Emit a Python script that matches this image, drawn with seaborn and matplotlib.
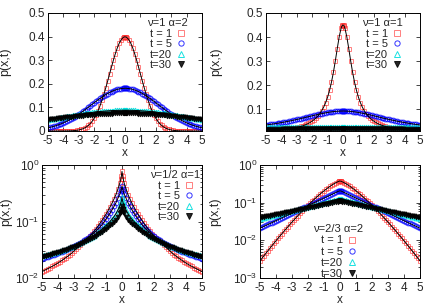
import numpy as np
import seaborn as sns
import matplotlib.pyplot as plt
from matplotlib.lines import Line2D
from matplotlib.ticker import FuncFormatter

# profiles read for x >= 0; every curve is symmetric about x = 0
x_half = [0, 0.04, 0.08, 0.125, 0.25, 0.375, 0.5, 0.625, 0.75, 0.875, 1,
          1.125, 1.25, 1.375, 1.5, 1.625, 1.75, 1.875, 2, 2.125, 2.25, 2.375,
          2.5, 2.625, 2.75, 2.875, 3, 3.125, 3.25, 3.375, 3.5, 3.625, 3.75,
          3.875, 4, 4.125, 4.25, 4.375, 4.5, 4.625, 4.75, 4.875, 5]
times = ['t = 1', 't = 5', 't=20', 't=30']
x_ticks = [-5, -4, -3, -2, -1, 0, 1, 2, 3, 4, 5]

# nu=1 alpha=2
a_t1 = [0.3989, 0.3986, 0.3976, 0.3958, 0.3867, 0.3718, 0.3521, 0.3282, 0.3011, 0.2718, 0.2420,
        0.2119, 0.1826, 0.1551, 0.1295, 0.1065, 0.0863, 0.0688, 0.0540, 0.0417, 0.0317, 0.0237,
        0.0175, 0.0127, 0.0091, 0.0064, 0.0044, 0.0030, 0.0020, 0.0013, 0.0009, 0.0006, 0.0004,
        0.0002, 0.0001, 0.0001, 0.0, 0.0, 0.0, 0.0, 0.0, 0.0, 0.0]
a_t5 = [0.1810, 0.1810, 0.1809, 0.1807, 0.1798, 0.1784, 0.1764, 0.1738, 0.1708, 0.1672, 0.1632,
        0.1588, 0.1540, 0.1489, 0.1435, 0.1378, 0.1320, 0.1259, 0.1197, 0.1135, 0.1073, 0.1010,
        0.0949, 0.0888, 0.0828, 0.0770, 0.0714, 0.0660, 0.0608, 0.0558, 0.0511, 0.0466, 0.0424,
        0.0384, 0.0347, 0.0312, 0.0280, 0.0250, 0.0223, 0.0198, 0.0176, 0.0156, 0.0137]
a_t20 = [0.0880, 0.0880, 0.0880, 0.0880, 0.0879, 0.0877, 0.0875, 0.0872, 0.0868, 0.0864, 0.0859,
         0.0853, 0.0847, 0.0840, 0.0833, 0.0825, 0.0817, 0.0808, 0.0798, 0.0788, 0.0778, 0.0767,
         0.0756, 0.0744, 0.0732, 0.0719, 0.0707, 0.0694, 0.0680, 0.0667, 0.0653, 0.0639, 0.0624,
         0.0610, 0.0596, 0.0581, 0.0566, 0.0552, 0.0537, 0.0522, 0.0508, 0.0493, 0.0478]
a_t30 = [0.0750, 0.0750, 0.0750, 0.0750, 0.0749, 0.0748, 0.0747, 0.0745, 0.0742, 0.0740, 0.0737,
         0.0733, 0.0729, 0.0725, 0.0721, 0.0716, 0.0710, 0.0704, 0.0698, 0.0692, 0.0685, 0.0678,
         0.0671, 0.0663, 0.0656, 0.0647, 0.0639, 0.0631, 0.0622, 0.0613, 0.0603, 0.0594, 0.0584,
         0.0574, 0.0564, 0.0554, 0.0544, 0.0534, 0.0524, 0.0513, 0.0503, 0.0492, 0.0481]

# nu=1 alpha=1
b_t1 = [0.4500, 0.4486, 0.4443, 0.4364, 0.4000, 0.3512, 0.3000, 0.2526, 0.2118, 0.1778, 0.1500,
        0.1274, 0.1091, 0.0941, 0.0818, 0.0716, 0.0632, 0.0560, 0.0500, 0.0449, 0.0404, 0.0366,
        0.0333, 0.0304, 0.0279, 0.0257, 0.0237, 0.0219, 0.0203, 0.0189, 0.0176, 0.0165, 0.0155,
        0.0145, 0.0136, 0.0128, 0.0121, 0.0115, 0.0108, 0.0103, 0.0098, 0.0093, 0.0088]
b_t5 = [0.0920, 0.0920, 0.0920, 0.0919, 0.0916, 0.0911, 0.0905, 0.0896, 0.0886, 0.0874, 0.0861,
        0.0847, 0.0831, 0.0815, 0.0798, 0.0779, 0.0761, 0.0742, 0.0723, 0.0703, 0.0684, 0.0664,
        0.0645, 0.0626, 0.0607, 0.0588, 0.0570, 0.0552, 0.0535, 0.0518, 0.0501, 0.0485, 0.0469,
        0.0454, 0.0440, 0.0426, 0.0412, 0.0399, 0.0386, 0.0374, 0.0362, 0.0351, 0.0340]
b_t20 = [0.0265, 0.0265, 0.0265, 0.0265, 0.0265, 0.0265, 0.0265, 0.0265, 0.0264, 0.0264, 0.0264,
         0.0264, 0.0263, 0.0263, 0.0263, 0.0262, 0.0262, 0.0261, 0.0261, 0.0260, 0.0259, 0.0259,
         0.0258, 0.0257, 0.0257, 0.0256, 0.0255, 0.0254, 0.0253, 0.0252, 0.0252, 0.0251, 0.0250,
         0.0249, 0.0248, 0.0247, 0.0246, 0.0245, 0.0244, 0.0243, 0.0242, 0.0241, 0.0240]
b_t30 = [0.0158, 0.0158, 0.0158, 0.0158, 0.0158, 0.0158, 0.0158, 0.0158, 0.0158, 0.0158, 0.0158,
         0.0157, 0.0157, 0.0157, 0.0157, 0.0157, 0.0157, 0.0157, 0.0157, 0.0156, 0.0156, 0.0156,
         0.0156, 0.0155, 0.0155, 0.0155, 0.0155, 0.0154, 0.0154, 0.0154, 0.0154, 0.0153, 0.0153,
         0.0153, 0.0152, 0.0152, 0.0152, 0.0151, 0.0151, 0.0151, 0.0150, 0.0150, 0.0150]

# nu=1/2 alpha=1
c_t1 = [0.77, 0.64, 0.56, 0.49, 0.38, 0.30, 0.25, 0.21, 0.18, 0.155, 0.135,
        0.119, 0.105, 0.093, 0.083, 0.074, 0.067, 0.061, 0.056, 0.0518, 0.048, 0.0444,
        0.041, 0.0379, 0.035, 0.0324, 0.030, 0.0279, 0.026, 0.0244, 0.023, 0.0217, 0.0205,
        0.0194, 0.0184, 0.0175, 0.0167, 0.0160, 0.0153, 0.0147, 0.0141, 0.0135, 0.0130]
c_t5 = [0.42, 0.375, 0.34, 0.31, 0.26, 0.215, 0.185, 0.16, 0.14, 0.124, 0.110,
        0.0978, 0.088, 0.080, 0.0733, 0.0677, 0.0629, 0.0587, 0.0550, 0.0518, 0.0489, 0.0463,
        0.0440, 0.0419, 0.0400, 0.0383, 0.0367, 0.0352, 0.0338, 0.0326, 0.0314, 0.0303, 0.0293,
        0.0284, 0.0275, 0.0267, 0.0259, 0.0251, 0.0244, 0.0238, 0.0232, 0.0226, 0.0220]
c_t20 = [0.27, 0.23, 0.21, 0.195, 0.16, 0.138, 0.122, 0.11, 0.100, 0.092, 0.085,
         0.0787, 0.073, 0.068, 0.064, 0.060, 0.0565, 0.0536, 0.051, 0.0486, 0.0465, 0.0446,
         0.0428, 0.0412, 0.0397, 0.0383, 0.0370, 0.0358, 0.0347, 0.0337, 0.0327, 0.0318, 0.0309,
         0.0301, 0.0293, 0.0286, 0.0279, 0.0273, 0.0267, 0.0261, 0.0256, 0.0251, 0.0246]
c_t30 = [0.19, 0.165, 0.15, 0.14, 0.12, 0.107, 0.098, 0.091, 0.085, 0.0797, 0.075,
         0.070, 0.066, 0.0624, 0.059, 0.0561, 0.0535, 0.0511, 0.049, 0.0469, 0.045, 0.0432,
         0.0415, 0.0399, 0.0385, 0.0372, 0.036, 0.0349, 0.0338, 0.0328, 0.0318, 0.0309, 0.0301,
         0.0293, 0.0286, 0.0279, 0.0272, 0.0266, 0.026, 0.0254, 0.0249, 0.0244, 0.0239]

# nu=2/3 alpha=2
d_t1 = [0.376, 0.3724, 0.3674, 0.3609, 0.3401, 0.3176, 0.2943, 0.2710, 0.2483, 0.2265, 0.2058,
        0.1862, 0.1680, 0.1511, 0.1354, 0.1211, 0.1080, 0.0961, 0.0853, 0.0755, 0.0667, 0.0588,
        0.0518, 0.0455, 0.0399, 0.0349, 0.0305, 0.0266, 0.0231, 0.0201, 0.01744, 0.0151, 0.01308,
        0.0113, 0.00975, 0.0084, 0.00723, 0.00621, 0.00533, 0.00457, 0.00391, 0.00334, 0.00285]
d_t5 = [0.205, 0.204, 0.202, 0.199, 0.1871, 0.1766, 0.1667, 0.1574, 0.1486, 0.1403, 0.1324,
        0.1250, 0.1180, 0.1114, 0.1052, 0.0993, 0.0938, 0.0885, 0.0836, 0.0789, 0.0745, 0.0703,
        0.0664, 0.0627, 0.0592, 0.0558, 0.0527, 0.0498, 0.0470, 0.0444, 0.0419, 0.0395, 0.0373,
        0.0352, 0.0333, 0.0314, 0.0296, 0.0280, 0.0264, 0.0249, 0.0236, 0.0222, 0.0210]
d_t20 = [0.1288, 0.1275, 0.1263, 0.1249, 0.1211, 0.1174, 0.1139, 0.1104, 0.1071, 0.1038, 0.1007,
         0.0976, 0.0947, 0.0918, 0.0890, 0.0863, 0.0837, 0.0812, 0.0787, 0.0763, 0.0740, 0.0718,
         0.0696, 0.0675, 0.0654, 0.0634, 0.0615, 0.0596, 0.0578, 0.0561, 0.0544, 0.0527, 0.0511,
         0.0496, 0.0481, 0.0466, 0.0452, 0.0438, 0.0425, 0.0412, 0.0400, 0.0388, 0.0376]
d_t30 = [0.1096, 0.1087, 0.1078, 0.1069, 0.1042, 0.1016, 0.0991, 0.0966, 0.0942, 0.0918, 0.0895,
         0.0873, 0.0851, 0.0830, 0.0809, 0.0789, 0.0769, 0.0750, 0.0731, 0.0713, 0.0695, 0.0678,
         0.0661, 0.0644, 0.0628, 0.0612, 0.0597, 0.0582, 0.0568, 0.0554, 0.0540, 0.0526, 0.0513,
         0.0500, 0.0488, 0.0476, 0.0463, 0.0452, 0.0441, 0.0430, 0.0419, 0.0408, 0.0398]

styles = {
    't = 1': dict(marker='s', color='#ff2a2a', mfc='none', alpha=0.6),
    't = 5': dict(marker='o', color='#0000ff', mfc='none', alpha=0.8),
    't=20': dict(marker='^', color='#00dede', mfc='none', alpha=0.9),
    't=30': dict(marker='v', color='#000000', mfc='#000000', alpha=0.85),
}
MS = 3.4


def mirror(v):
    v = np.asarray(v, dtype=float)
    return np.concatenate([v[:0:-1], v])


x_full = np.concatenate([-np.asarray(x_half)[:0:-1], np.asarray(x_half)])


def draw_panel(ax, series, title, log, anchor, ylim, yticks=None, spacing=0.05):
    for lab, vals in zip(times, series):
        st = styles[lab]
        sns.lineplot(x=x_full, y=mirror(vals), ax=ax, linestyle='', marker=st['marker'],
                     ms=MS, mew=0.7, mec=st['color'], mfc=st['mfc'], alpha=st['alpha'],
                     sort=False, errorbar=None)
    for vals in series:
        sns.lineplot(x=x_full, y=mirror(vals), ax=ax, color='black', lw=0.7,
                     sort=False, errorbar=None)
    ax.set_xlim(-5, 5)
    ax.set_xticks(x_ticks)
    if log:
        ax.set_yscale('log')
    ax.set_ylim(*ylim)
    if yticks is not None:
        ax.set_yticks(yticks)
        ax.yaxis.set_major_formatter(FuncFormatter(lambda v, _: f'{v:g}'))
    ax.tick_params(which='both', direction='in', top=True, right=True, width=0.6)
    ax.tick_params(which='major', length=3, pad=2)
    ax.tick_params(which='minor', length=1.8)
    ax.tick_params(axis='x', pad=2.8)
    for sp in ax.spines.values():
        sp.set_linewidth(0.7)
        sp.set_color('black')
    ax.set_xlabel('x', labelpad=0, fontsize=8.5)
    ax.set_ylabel('p(x,t)')
    handles = [Line2D([], [], ls='', marker=styles[t]['marker'], ms=MS + 0.4, mew=0.7,
                      mec=styles[t]['color'], mfc=styles[t]['mfc'], alpha=styles[t]['alpha'])
               for t in times]
    ax.legend(handles, times, title=title, loc='upper right', bbox_to_anchor=anchor,
              frameon=False, markerfirst=False, handlelength=0.6, handletextpad=0.5,
              labelspacing=spacing, borderpad=0, borderaxespad=0, title_fontsize=8, fontsize=8)


sns.set_theme(style='ticks')
plt.rcParams['font.family'] = ['Liberation Sans', 'DejaVu Sans']
plt.rcParams['axes.unicode_minus'] = False
plt.rcParams['font.size'] = 8
plt.rcParams['axes.labelsize'] = 9
plt.rcParams['xtick.labelsize'] = 8.5
plt.rcParams['ytick.labelsize'] = 8.5

fig = plt.figure(figsize=(4.36, 3.05), dpi=100)
ax1 = fig.add_axes([0.1101, 0.5705, 0.3532, 0.3869])
ax2 = fig.add_axes([0.6101, 0.5705, 0.3532, 0.3869])
ax3 = fig.add_axes([0.0963, 0.0885, 0.3670, 0.3705])
ax4 = fig.add_axes([0.5963, 0.0885, 0.3670, 0.3705])

draw_panel(ax1, [a_t1, a_t5, a_t20, a_t30], 'ν=1 α=2', False, (0.905, 0.958),
           (0, 0.5), [0, 0.1, 0.2, 0.3, 0.4, 0.5])
draw_panel(ax2, [b_t1, b_t5, b_t20, b_t30], 'ν=1 α=1', False, (0.89, 0.958),
           (0.009, 0.5), [0.1, 0.2, 0.3, 0.4, 0.5])
draw_panel(ax3, [c_t1, c_t5, c_t20, c_t30], 'ν=1/2 α=1', True, (0.99, 0.956),
           (0.01, 1.0))
draw_panel(ax4, [d_t1, d_t5, d_t20, d_t30], 'ν=2/3 α=2', True, (0.645, 0.475),
           (0.001, 1.0), spacing=0.1)

ax1.yaxis.set_label_coords(-0.24, 0.585)
ax2.yaxis.set_label_coords(-0.285, 0.585)
ax3.yaxis.set_label_coords(-0.185, 0.59)
ax4.yaxis.set_label_coords(-0.245, 0.59)

fig.savefig('out.png', dpi=100)
